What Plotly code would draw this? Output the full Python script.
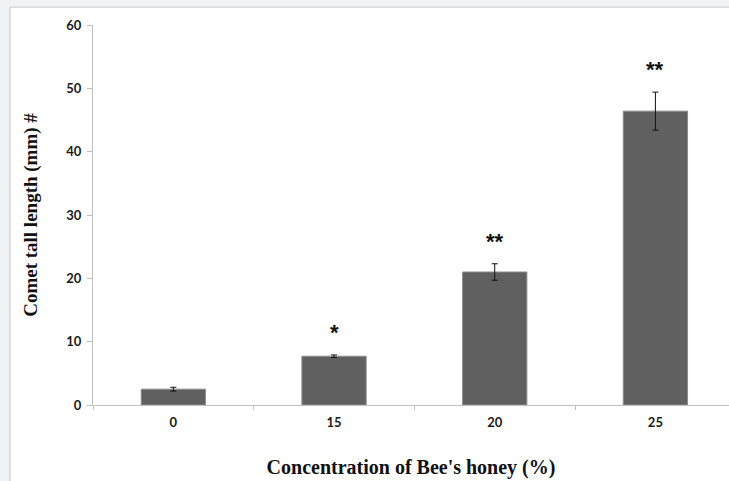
import plotly.graph_objects as go

categories = ["0", "15", "20", "25"]
values = [2.5, 7.7, 21.0, 46.4]
errors = [0.3, 0.2, 1.3, 3.0]
sig_labels = ["", "*", "**", "**"]
y_ticks = [0, 10, 20, 30, 40, 50, 60]

fig = go.Figure()
fig.add_trace(go.Bar(
    x=categories, y=values,
    marker=dict(color="#606060", line=dict(color="#8c8c8c", width=1)),
    error_y=dict(type="data", array=errors, visible=True, color="#111111", thickness=1, width=3),
    width=0.4,
))

for i, (v, e, s) in enumerate(zip(values, errors, sig_labels)):
    if s:
        fig.add_annotation(x=i, y=v + e + 1.3, text="<b>" + s + "</b>", showarrow=False,
                           yanchor="bottom", font=dict(family="Liberation Sans", size=22, color="#111111"))

fig.add_shape(type="rect", xref="paper", yref="paper", x0=-0.1305, x1=1.2, y0=-0.4, y1=1.047,
              fillcolor="white", line=dict(color="#c8c8c8", width=1), layer="below")

fig.update_layout(
    width=729, height=481,
    margin=dict(l=93, r=0, t=25, b=76),
    paper_bgcolor="#f1f2f4", plot_bgcolor="rgba(0,0,0,0)",
    showlegend=False,
    xaxis=dict(
        type="category", range=[-0.5, 3.458],
        showline=True, linecolor="#c0c0c0", linewidth=1,
        ticks="outside", tickson="boundaries", ticklen=4, tickcolor="#c0c0c0",
        showgrid=False, ticklabelstandoff=5,
        tickfont=dict(family="Lato", size=13, color="#1a1a1a", weight="bold"),
        title=dict(text="<b>Concentration of Bee's honey (%)</b>", standoff=31,
                   font=dict(family="Liberation Serif", size=20, color="#111111")),
    ),
    yaxis=dict(
        range=[0, 60], tickvals=y_ticks,
        showline=True, linecolor="#c0c0c0", linewidth=1,
        ticks="outside", ticklen=5, tickcolor="#c0c0c0",
        showgrid=False, zeroline=False, ticklabelstandoff=3,
        tickfont=dict(family="Lato", size=13, color="#1a1a1a", weight="bold"),
        title=dict(text="<b>Comet tall length (mm) #</b>", standoff=23,
                   font=dict(family="Liberation Serif", size=19, color="#111111")),
    ),
)

fig.write_html("out.html")
